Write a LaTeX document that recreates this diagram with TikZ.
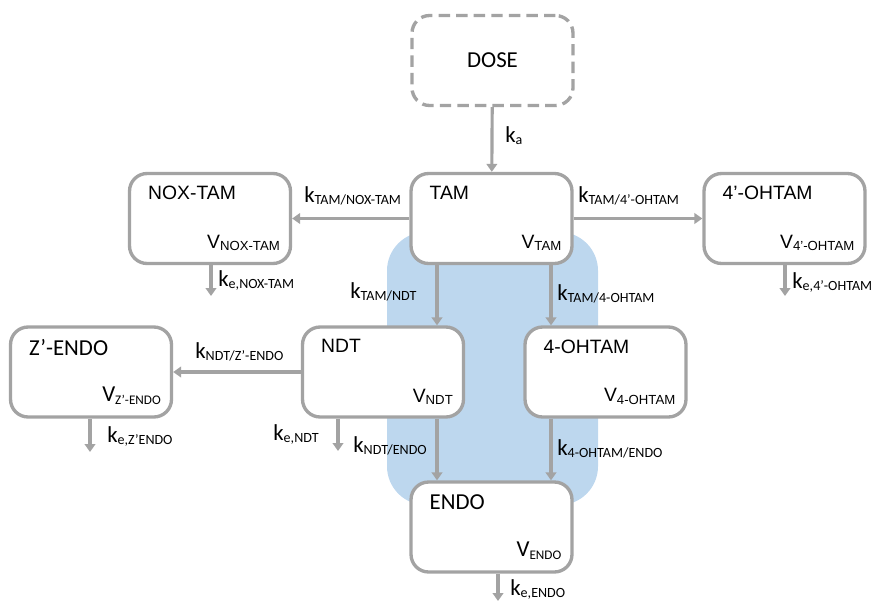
\documentclass[tikz,border=0pt]{standalone}
\usepackage{fontspec}
\setmainfont{Liberation Sans}
\newfontfamily\calib{Carlito}
\usetikzlibrary{arrows.meta}
\definecolor{boxgray}{RGB}{163,163,163}
\definecolor{poolblue}{RGB}{189,215,238}
\newcommand{\klab}[1]{{\calib\fontsize{13}{15}\selectfont k\raisebox{-1.3pt}{\fontsize{8}{9}\selectfont #1}}}
\newcommand{\vlab}[1]{V\raisebox{-1.3pt}{\fontsize{7.5}{9}\selectfont #1}}
\newcommand{\calbig}{\calib\fontsize{13}{15}\selectfont}
\tikzset{
  comp/.style={draw=boxgray, line width=1.9pt, rounded corners=10pt, fill=white,
    minimum width=3.22cm, minimum height=1.8cm},
  flow/.style={draw=boxgray, line width=1.8pt, -{Triangle[width=6pt,length=4.5pt]}},
  comptitle/.style={inner sep=0pt, anchor=north west, font=\fontsize{11}{13}\selectfont},
  compvol/.style={inner sep=0pt, anchor=south east, font=\fontsize{11}{13}\selectfont},
  ratelab/.style={inner sep=0pt, anchor=base west},
}
\begin{document}
\begin{tikzpicture}[x=0.02cm, y=-0.02cm]
    \useasboundingbox (0,0) rectangle (878,602);
    % --- blue pool behind the central chain ---
    \fill[poolblue, rounded corners=22pt] (387,232) rectangle (598,505);

    % --- dose ---
    \node[comp, dashed, dash pattern=on 6.5pt off 3.5pt, font=\calbig] (dose) at (492.5,60.5) {DOSE};

    % --- compartments ---
    \foreach \n/\x/\y/\ttl/\vv in {
        tam/491.5/218.5/{TAM}/{\vlab{TAM}},
        noxtam/210/218.5/{NOX-TAM}/{\vlab{NOX-TAM}},
        ohtamp/784.5/218.5/{4’-OHTAM}/{\vlab{4’-OHTAM}},
        ndt/383/372/{NDT}/{\vlab{NDT}},
        ohtam/605.5/372/{4-OHTAM}/{\vlab{4-OHTAM}},
        zendo/91/372/{\calbig Z’-ENDO}/{\calbig\vlab{Z’-ENDO}},
        endo/491.5/527/{\calbig ENDO}/{\calbig\vlab{ENDO}}}{
        \node[comp] (\n) at (\x,\y) {};
        \node[comptitle] (\n-t) at ([xshift=0.4cm,yshift=-0.28cm]\n.north west) {\ttl};
        \node[compvol] (\n-v) at ([xshift=-0.24cm,yshift=0.28cm]\n.south east) {\vv};
    }

    % --- transfers ---
    \coordinate (laneL) at (437,0);
    \coordinate (laneR) at (551,0);
    \draw[flow] (dose) -- (tam);
    \draw[flow] (tam.west) -- (noxtam.east);
    \draw[flow] (tam.east) -- (ohtamp.west);
    \draw[flow] (ndt.west) -- (zendo.east);
    \draw[flow] (tam.south -| laneL) -- (ndt.north -| laneL);
    \draw[flow] (tam.south -| laneR) -- (ohtam.north -| laneR);
    \draw[flow] (ndt.south -| laneL) -- (endo.north -| laneL);
    \draw[flow] (ohtam.south -| laneR) -- (endo.north -| laneR);

    % --- eliminations ---
    \foreach \n/\x/\y in {noxtam/211/296, ohtamp/785/296, zendo/90/452, ndt/338/451, endo/498/601}{
        \coordinate (\n-out) at (\x,\y);
        \draw[flow] (\n.south -| \n-out) -- (\n-out);
    }

    % --- rate labels ---
    \foreach \n/\x/\y/\s in {ka/505/142/a, k1/304/202/{TAM/NOX-TAM}, k2/578/202/{TAM/4’-OHTAM},
        k3/350/298/{TAM/NDT}, k4/557/300/{TAM/4-OHTAM}, k5/218/286/{e,NOX-TAM},
        k6/792/288/{e,4’-OHTAM}, k7/195/358/{NDT/Z’-ENDO}, k8/107/442/{e,Z’ENDO},
        k9/273/440/{e,NDT}, k10/353/452/{NDT/ENDO}, k11/557/455/{4-OHTAM/ENDO},
        k12/510/595/{e,ENDO}}{
        \node[ratelab] (\n) at (\x,\y) {\klab{\s}};
    }
\end{tikzpicture}
\end{document}
